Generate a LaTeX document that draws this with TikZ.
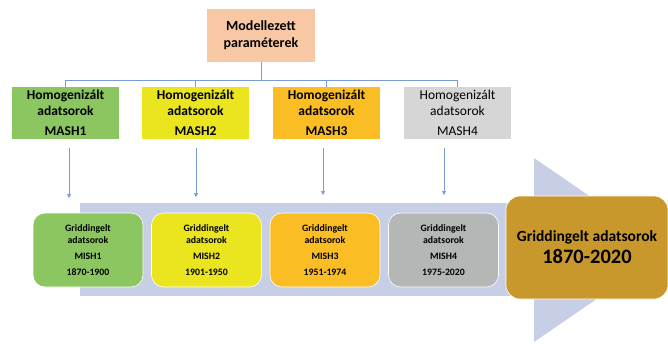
\documentclass[tikz,border=0pt]{standalone}
\usepackage{fontspec}
\setmainfont{Carlito}
\usetikzlibrary{arrows.meta}
\definecolor{peach}{HTML}{F8C8A4}
\definecolor{cgreen}{HTML}{8BC660}
\definecolor{cyellow}{HTML}{EAE51E}
\definecolor{corange}{HTML}{FBBD24}
\definecolor{cgrayA}{HTML}{D6D6D6}
\definecolor{cgrayB}{HTML}{B4B7B6}
\definecolor{cgold}{HTML}{C9982D}
\definecolor{cband}{HTML}{C6CFE5}
\definecolor{cline}{HTML}{7A9CD6}
\tikzset{
  mashbox/.style={minimum width=107pt, minimum height=52pt, inner sep=0pt, align=center, font=\fontsize{13.5}{16}\selectfont\bfseries},
  mishbox/.style={minimum width=110pt, minimum height=74pt, inner sep=0pt, rounded corners=12pt, draw=white, line width=0.6pt, align=center, font=\fontsize{9.8}{12}\selectfont\bfseries},
  conn/.style={draw=cline, line width=0.8pt},
  arr/.style={conn, -{Triangle[width=4pt,length=4pt]}}
}
\begin{document}
\begin{tikzpicture}[x=1pt,y=-1pt]
\useasboundingbox (0,0) rectangle (668,343);
% band arrow
\fill[cband] (80,203) rectangle (540,296);
\fill[cband] (534,158) -- (668,250) -- (534,342) -- cycle;
% top node
\node[fill=peach, minimum width=108pt, minimum height=53pt, inner sep=0pt, align=center, font=\fontsize{14}{17}\selectfont\bfseries] (top) at (261,35.5) {Modellezett\\paraméterek};
% MASH nodes
\node[mashbox, fill=cgreen] (m1) at (65.5,113) {Homogenizált\\adatsorok\\[4pt]MASH1};
\node[mashbox, fill=cyellow] (m2) at (195.5,113) {Homogenizált\\adatsorok\\[4pt]MASH2};
\node[mashbox, fill=corange] (m3) at (326.5,113) {Homogenizált\\adatsorok\\[4pt]MASH3};
\node[mashbox, fill=cgrayA, font=\fontsize{13.5}{16}\selectfont] (m4) at (457.5,113) {Homogenizált\\adatsorok\\[4pt]MASH4};
% bus
\coordinate (bus) at (261,80);
\draw[conn] (top.south) -- (bus);
\draw[conn] (bus) -| (m1.north);
\draw[conn] (bus) -| (m4.north);
\draw[conn] (m2.north) |- (bus);
\draw[conn] (m3.north) -- (m3.north |- bus);
% MISH nodes
\node[mishbox, fill=cgreen] (g1) at (88,250) {Griddingelt\\adatsorok\\[4pt]MISH1\\[4pt]1870-1900};
\node[mishbox, fill=cyellow] (g2) at (206.5,250) {Griddingelt\\adatsorok\\[4pt]MISH2\\[4pt]1901-1950};
\node[mishbox, fill=corange] (g3) at (325,250) {Griddingelt\\adatsorok\\[4pt]MISH3\\[4pt]1951-1974};
\node[mishbox, fill=cgrayB] (g4) at (443.5,250) {Griddingelt\\adatsorok\\[4pt]MISH4\\[4pt]1975-2020};
\node[fill=cgold, draw=white, line width=0.6pt, rounded corners=14pt, minimum width=162pt, minimum height=103pt, inner sep=0pt, align=center] (fin) at (587,247.5) {{\fontsize{15.5}{18}\selectfont\bfseries Griddingelt adatsorok}\\[4pt]{\fontsize{20.5}{22}\selectfont\bfseries 1870-2020}};
% down arrows
\coordinate (s1) at (69,148); \coordinate (e1) at (69,198);
\coordinate (s2) at (196,148); \coordinate (e2) at (196,197);
\coordinate (s3) at (323,148); \coordinate (e3) at (323,195);
\coordinate (s4) at (444,148); \coordinate (e4) at (444,195);
\draw[arr] (s1) -- (e1);
\draw[arr] (s2) -- (e2);
\draw[arr] (s3) -- (e3);
\draw[arr] (s4) -- (e4);
\end{tikzpicture}
\end{document}
